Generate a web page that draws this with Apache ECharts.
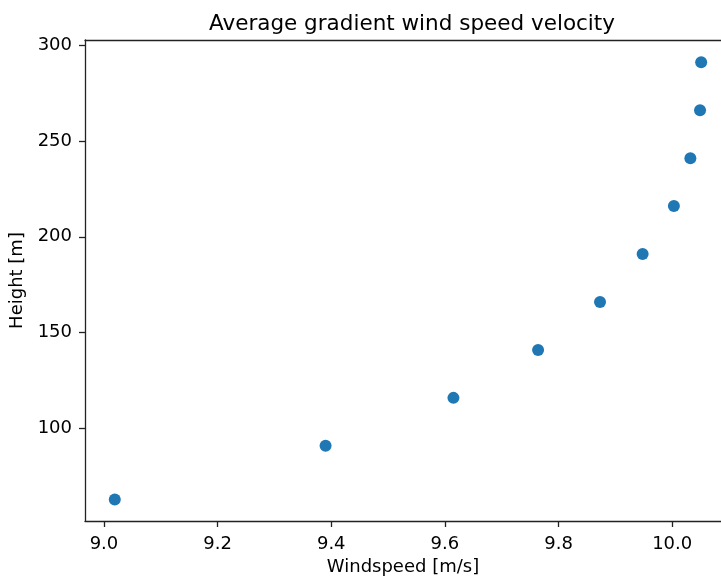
<!DOCTYPE html>
<html>
<head>
<meta charset="utf-8">
<script src="https://cdn.jsdelivr.net/npm/echarts@6/dist/echarts.min.js"></script>
<style>html,body{margin:0;padding:0;background:#fff}#c{width:721px;height:578px}</style>
</head>
<body>
<div id="c"></div>
<script>
const windspeed = [9.019, 9.390, 9.615, 9.764, 9.873, 9.948, 10.003, 10.032, 10.049, 10.051];
const heights = [63, 91, 116, 141, 166, 191, 216, 241, 266, 291];
const xTicks = [9.0, 9.2, 9.4, 9.6, 9.8, 10.0];
const yTicks = [100, 150, 200, 250, 300];

const points = windspeed.map((w, i) => [w, heights[i]]);
const font = 'DejaVu Sans';
const X_MIN = 8.9666, X_MAX = 10.0859;
const chart = echarts.init(document.getElementById('c'), null, {renderer: 'canvas'});
chart.setOption({
  animation: false,
  backgroundColor: '#fff',
  title: {
    text: 'Average gradient wind speed velocity',
    left: 407, top: 8, textAlign: 'center',
    textStyle: {fontFamily: font, fontSize: 21.5, fontWeight: 'normal', color: '#000'}
  },
  grid: {left: 85, right: 0, top: 40, bottom: 57, show: false, outerBoundsMode: 'none', containLabel: false},
  xAxis: [{
    type: 'value', min: X_MIN, max: X_MAX,
    name: 'Windspeed [m/s]', nameLocation: 'middle', nameGap: 37,
    nameTextStyle: {fontFamily: font, fontSize: 18, color: '#000'},
    axisLine: {show: true, onZero: false, lineStyle: {color: '#222', width: 1.3}},
    axisTick: {show: true, inside: false, length: 6, customValues: xTicks, lineStyle: {color: '#222', width: 1.3}},
    axisLabel: {show: true, margin: 14, customValues: xTicks, formatter: v => v.toFixed(1), fontFamily: font, fontSize: 18, color: '#000'},
    splitLine: {show: false}
  }, {
    type: 'value', position: 'top', min: X_MIN, max: X_MAX,
    axisLine: {show: true, onZero: false, lineStyle: {color: '#222', width: 1.3}},
    axisTick: {show: false}, axisLabel: {show: false}, splitLine: {show: false}
  }],
  yAxis: {
    type: 'value', min: 51.8, max: 302.6,
    name: 'Height [m]', nameLocation: 'middle', nameGap: 58,
    nameTextStyle: {fontFamily: font, fontSize: 18, color: '#000'},
    axisLine: {show: true, onZero: false, lineStyle: {color: '#222', width: 1.3}},
    axisTick: {show: true, inside: false, length: 6, customValues: yTicks, lineStyle: {color: '#222', width: 1.3}},
    axisLabel: {show: true, margin: 13, customValues: yTicks, formatter: v => String(v), fontFamily: font, fontSize: 18, color: '#000'},
    splitLine: {show: false}
  },
  series: [{
    type: 'scatter',
    xAxisIndex: 0,
    data: points,
    symbol: 'circle',
    symbolSize: 12,
    itemStyle: {color: '#1f77b4', opacity: 1}
  }]
});
</script>
</body>
</html>
